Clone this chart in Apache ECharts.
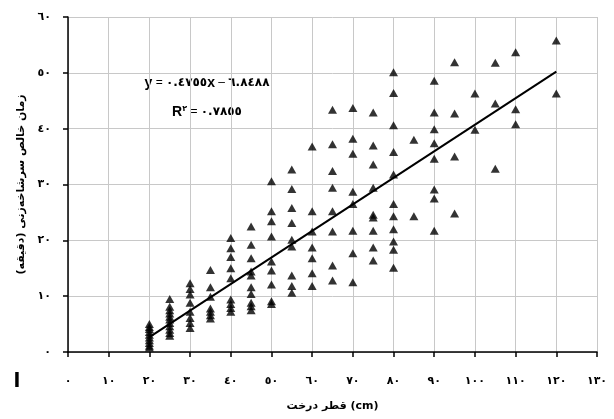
<!DOCTYPE html>
<html>
<head>
<meta charset="utf-8">
<script src="https://cdn.jsdelivr.net/npm/echarts@6/dist/echarts.min.js"></script>
<style>
html,body{margin:0;padding:0;background:#fff;}
#c{width:614px;height:419px;}
</style>
</head>
<body>
<div id="c"></div>
<script>
const diameters = [20, 25, 30, 35, 40, 45, 50, 55, 60, 65, 70, 75, 80, 85, 90, 95, 100, 105, 110, 120];
const times = [
  [5.0, 4.5, 4.1, 3.6, 3.1, 2.6, 2.1, 1.6, 1.1, 0.8],
  [9.5, 8.1, 7.5, 6.9, 6.3, 5.8, 5.2, 4.6, 4.0, 3.4, 2.9],
  [12.3, 11.3, 10.3, 8.8, 7.2, 6.1, 5.2, 4.3],
  [14.7, 11.6, 9.9, 7.8, 7.2, 6.6, 6.0],
  [20.4, 18.6, 17.0, 15.0, 13.2, 9.4, 8.6, 7.9, 7.2],
  [22.5, 19.2, 16.8, 14.4, 13.7, 11.6, 10.4, 8.8, 8.2, 7.5],
  [30.6, 25.2, 23.4, 20.7, 16.2, 14.6, 12.1, 9.1, 8.6],
  [32.7, 29.2, 25.8, 23.1, 20.1, 18.9, 13.7, 11.8, 10.6],
  [36.8, 25.2, 21.6, 18.7, 16.8, 14.1, 11.8],
  [43.4, 37.2, 32.4, 29.4, 25.2, 21.6, 15.5, 12.8],
  [43.7, 38.2, 35.5, 28.7, 26.5, 21.7, 17.7, 12.5],
  [42.9, 37.0, 33.6, 29.4, 24.6, 24.1, 21.7, 18.7, 16.4],
  [50.1, 46.4, 40.6, 35.8, 31.8, 26.5, 24.3, 22.0, 19.8, 18.3, 15.1],
  [38.0, 24.3],
  [48.6, 42.9, 39.9, 37.4, 34.6, 29.1, 27.5, 21.7],
  [51.9, 42.7, 35.0, 24.8],
  [46.3, 39.8],
  [51.8, 44.5, 32.8],
  [53.7, 43.5, 40.8],
  [55.8, 46.3]
];
const trendX = [20, 120];
const trendY = [2.66, 50.21];
const xTickLabels = ['٠','١٠','٢٠','٣٠','٤٠','٥٠','٦٠','٧٠','٨٠','٩٠','١٠٠','١١٠','١٢٠','١٣٠'];
const yTickLabels = ['٠','١٠','٢٠','٣٠','٤٠','٥٠','٦٠'];
const xTitle = 'قطر درخت (cm)';
const yTitle = 'زمان خالص سرشاخه‌زنی (دقیقه)';
const eqCoef = '٠.٤٧٥٥';
const eqConst = '٦.٨٤٨٨';
const r2Value = '٠.٧٨٥٥';
const panelMark = 'ا';

const points = [];
diameters.forEach((d, i) => times[i].forEach(t => points.push([d, t])));
const trend = trendX.map((x, i) => [x, trendY[i]]);

const chart = echarts.init(document.getElementById('c'));
const lblFont = {fontFamily: 'DejaVu Sans', fontWeight: 'bold', fontSize: 11, color: '#000'};
const richEq = {
  v: {fontFamily: 'Liberation Sans', fontWeight: 'bold', fontSize: 14, fill: '#000'},
  s: {fontFamily: 'DejaVu Sans', fontWeight: 'bold', fontSize: 8, fill: '#000', verticalAlign: 'top', padding: [0, 0, 6, 0]},
  e: {fontFamily: 'Liberation Sans', fontSize: 12, fill: '#000'},
  n: {fontFamily: 'DejaVu Sans', fontWeight: 'bold', fontSize: 12, fill: '#000'}
};
chart.setOption({
  animation: false,
  backgroundColor: '#fff',
  grid: {left: 68, right: 17, top: 17, bottom: 67},
  xAxis: {
    type: 'value', min: 0, max: 130, interval: 10,
    axisLine: {show: true, onZero: false, lineStyle: {color: '#000', width: 1.5}},
    axisTick: {show: true, length: 5, lineStyle: {color: '#000', width: 1.5}},
    splitLine: {show: true, lineStyle: {color: '#c8c8c8', width: 1}},
    axisLabel: Object.assign({margin: 24, formatter: v => xTickLabels[Math.round(v / 10)]}, lblFont),
    name: xTitle, nameLocation: 'middle', nameGap: 49,
    nameTextStyle: {fontFamily: 'DejaVu Sans', fontWeight: 'bold', fontSize: 11, color: '#000'}
  },
  yAxis: {
    type: 'value', min: 0, max: 60, interval: 10,
    axisLine: {show: true, onZero: false, lineStyle: {color: '#000', width: 1.5}},
    axisTick: {show: true, length: 5, lineStyle: {color: '#000', width: 1.5}},
    splitLine: {show: true, lineStyle: {color: '#c8c8c8', width: 1}},
    axisLabel: Object.assign({margin: 17, formatter: v => yTickLabels[Math.round(v / 10)]}, lblFont),
    name: yTitle, nameLocation: 'middle', nameGap: 41, nameRotate: 90,
    nameTextStyle: {fontFamily: 'DejaVu Sans', fontWeight: 'bold', fontSize: 11, color: '#000'}
  },
  series: [
    {
      type: 'scatter', data: points, symbol: 'triangle', symbolSize: [9, 8],
      itemStyle: {color: '#000'}, z: 3
    },
    {
      type: 'line', data: trend, symbol: 'none', lineStyle: {color: '#000', width: 2}, z: 4
    }
  ],
  graphic: [
    {
      type: 'text', x: 207, y: 83,
      style: {
        text: '{v|y}{e| = }{n|' + eqCoef + '}{v|x}{e| – }{n|' + eqConst + '}',
        align: 'center', verticalAlign: 'middle', rich: richEq
      }
    },
    {
      type: 'text', x: 207, y: 112,
      style: {
        text: '{v|R}{s|٢}{e| = }{n|' + r2Value + '}',
        align: 'center', verticalAlign: 'middle', rich: richEq
      }
    },
    {
      type: 'text', x: 17, y: 382,
      style: {text: panelMark, font: 'bold 20px "DejaVu Sans"', fill: '#000', align: 'center', verticalAlign: 'middle'}
    }
  ]
});
</script>
</body>
</html>
